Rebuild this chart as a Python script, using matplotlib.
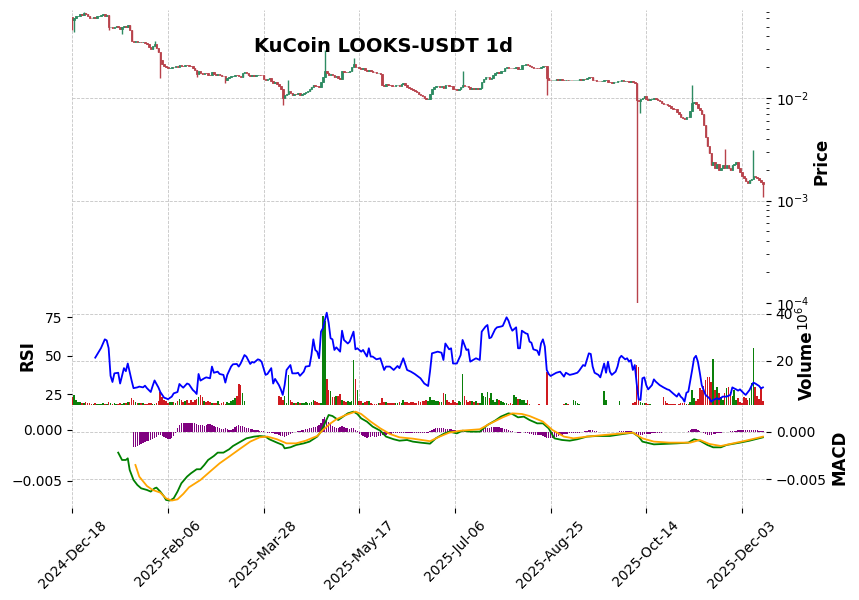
import numpy as np
import pandas as pd
import matplotlib
matplotlib.use("Agg")
import matplotlib.pyplot as plt
from matplotlib.ticker import LogLocator, NullFormatter

# ---------------- data ----------------
title = "KuCoin LOOKS-USDT 1d"
start_date = "2024-12-18"
first_open = 0.062

close = [
    0.058, 0.060, 0.063, 0.064, 0.066, 0.065, 0.068, 0.066, 0.064, 0.061,
    0.060, 0.062, 0.061, 0.063, 0.064, 0.065, 0.066, 0.064, 0.065, 0.050,
    0.050, 0.048, 0.050, 0.0505, 0.049, 0.047, 0.049, 0.051, 0.050, 0.052,
    0.046, 0.036, 0.0355, 0.036, 0.0352, 0.0356, 0.0350, 0.0353, 0.0345, 0.0335,
    0.0318, 0.0305, 0.0325, 0.0340, 0.0310, 0.0280, 0.0235, 0.0215, 0.0205, 0.0200,
    0.0195, 0.0198, 0.0202, 0.0200, 0.0205, 0.0203, 0.0212, 0.0208, 0.0206, 0.0212,
    0.0210, 0.0208, 0.0205, 0.0198, 0.0188, 0.0172, 0.0182, 0.0175, 0.0172, 0.0176,
    0.0174, 0.0170, 0.0168, 0.0179, 0.0172, 0.0170, 0.0171, 0.0168, 0.0166, 0.0163,
    0.0150, 0.0158, 0.0160, 0.0165, 0.0166, 0.0168, 0.0167, 0.0165, 0.0162, 0.0175,
    0.0178, 0.0176, 0.0168, 0.0165, 0.0167, 0.0166, 0.0168, 0.0170, 0.0169, 0.0167,
    0.0155, 0.0152, 0.0154, 0.0158, 0.0148, 0.0142, 0.0145, 0.0138, 0.0130, 0.0122,
    0.0100, 0.0108, 0.0110, 0.0118, 0.0112, 0.0108, 0.0110, 0.0109, 0.0111, 0.0107,
    0.0110, 0.0113, 0.0116, 0.0117, 0.0122, 0.0128, 0.0135, 0.0131, 0.0130, 0.0127,
    0.0145, 0.0160, 0.0185, 0.0175, 0.0168, 0.0172, 0.0170, 0.0160, 0.0165, 0.0158,
    0.0155, 0.0185, 0.0180, 0.0178, 0.0180, 0.0185, 0.0200, 0.0215, 0.0200, 0.0202,
    0.0195, 0.0193, 0.0196, 0.0190, 0.0185, 0.0190, 0.0182, 0.0180, 0.0178, 0.0175,
    0.0176, 0.0173, 0.0135, 0.0132, 0.0136, 0.0135, 0.0133, 0.0131, 0.0130, 0.0133,
    0.0134, 0.0132, 0.0136, 0.0140, 0.0133, 0.0128, 0.0126, 0.0123, 0.0120, 0.0117,
    0.0114, 0.0110, 0.0107, 0.0104, 0.0100, 0.0097, 0.0098, 0.0110, 0.0122, 0.0128,
    0.0130, 0.0131, 0.0129, 0.0130, 0.0126, 0.0135, 0.0133, 0.0132, 0.0131, 0.0124,
    0.0122, 0.0121, 0.0124, 0.0128, 0.0134, 0.0132, 0.0130, 0.0128, 0.0124, 0.0125,
    0.0124, 0.0125, 0.0124, 0.0125, 0.0145, 0.0155, 0.0160, 0.0162, 0.0155, 0.0158,
    0.0170, 0.0175, 0.0178, 0.0176, 0.0182, 0.0183, 0.0198, 0.0200, 0.0199, 0.0197,
    0.0195, 0.0198, 0.0203, 0.0192, 0.0193, 0.0210, 0.0212, 0.0214, 0.0212, 0.0206,
    0.0203, 0.0198, 0.0197, 0.0196, 0.0195, 0.0202, 0.0208, 0.0205, 0.0158, 0.0152,
    0.0150, 0.0151, 0.0152, 0.0153, 0.0152, 0.0153, 0.0151, 0.0150, 0.0152, 0.0151,
    0.0151, 0.0150, 0.0151, 0.0152, 0.0152, 0.0153, 0.0152, 0.0155, 0.0154, 0.0158,
    0.0160, 0.0159, 0.0152, 0.0150, 0.0148, 0.0147, 0.0146, 0.0146, 0.0150, 0.0151,
    0.0145, 0.0143, 0.0142, 0.0143, 0.0145, 0.0146, 0.0148, 0.0149, 0.0147, 0.0148,
    0.0146, 0.0145, 0.0146, 0.0143, 0.0142, 0.0096, 0.0094, 0.0097, 0.0100, 0.0104,
    0.0098, 0.0095, 0.0097, 0.0099, 0.0100, 0.0098, 0.0095, 0.0093, 0.0090, 0.0088,
    0.0087, 0.0085, 0.0084, 0.0081, 0.0079, 0.0078, 0.0074, 0.0070, 0.0066, 0.0064,
    0.0062, 0.0066, 0.0065, 0.0075, 0.0090, 0.0092, 0.0088, 0.0080, 0.0076, 0.0070,
    0.0055, 0.0042, 0.0034, 0.0029, 0.0022, 0.0024, 0.0021, 0.0023, 0.0020, 0.0021,
    0.0022, 0.0021, 0.0022, 0.0021, 0.0020, 0.0022, 0.0023, 0.0024, 0.0021, 0.0019,
    0.00175, 0.00165, 0.00155, 0.00148, 0.00158, 0.00163, 0.00172, 0.00168, 0.00165, 0.00160,
    0.00152, 0.00145,
]

# notable wick extremes: (day index, price)
wick_highs = [(6, 0.070), (43, 0.036), (113, 0.0150), (132, 0.0294), (147, 0.0245),
              (204, 0.0183), (324, 0.0134), (341, 0.0032), (356, 0.0031)]
wick_lows = [(0, 0.046), (1, 0.044), (19, 0.046), (26, 0.042), (46, 0.0157), (65, 0.0160),
             (80, 0.0140), (110, 0.0085), (248, 0.0107), (295, 0.00009), (297, 0.0071),
             (361, 0.00108)]

# volume in millions
volume_m = [
    4.5, 5.3, 3.0, 2.4, 2.2, 2.0, 1.8, 2.2, 1.7, 1.8,
    1.6, 1.5, 1.8, 1.5, 1.4, 1.6, 1.7, 1.4, 1.6, 2.2,
    1.9, 1.6, 1.8, 1.4, 1.5, 1.9, 1.6, 1.7, 2.0, 2.2,
    2.2, 4.2, 3.2, 2.5, 2.0, 1.8, 1.7, 2.1, 1.6, 1.5,
    1.8, 1.9, 1.5, 1.6, 1.8, 2.8, 6.5, 4.5, 3.0, 2.6,
    2.0, 2.5, 2.2, 2.3, 1.9, 2.6, 3.4, 3.1, 2.4, 2.9,
    3.1, 2.0, 3.0, 2.3, 3.0, 3.8, 4.5, 5.3, 4.4, 2.8,
    2.3, 2.7, 2.2, 2.0, 1.9, 1.8, 2.6, 1.6, 2.1, 2.3,
    1.6, 2.4, 2.1, 2.7, 3.0, 4.2, 4.8, 10.1, 9.5, 6.0,
    2.6, 0.3, 0.2, 0.3, 0.2, 0.2, 0.3, 0.2, 0.3, 0.5,
    0.6, 0.4, 0.5, 0.4, 0.3, 0.6, 0.5, 0.7, 4.8, 4.5,
    3.0, 4.8, 1.9, 13.9, 3.0, 2.4, 2.0, 1.8, 2.2, 2.0,
    2.1, 1.9, 2.2, 1.7, 2.0, 2.3, 3.2, 2.6, 2.3, 2.1,
    1.9, 39.0, 37.0, 12.0, 7.4, 7.2, 4.6, 4.4, 5.0, 4.8,
    5.7, 3.1, 2.7, 2.5, 2.6, 2.3, 2.8, 20.3, 12.0, 7.4,
    2.8, 2.9, 2.0, 2.2, 2.6, 2.6, 2.0, 1.6, 1.5, 1.4,
    1.8, 2.1, 4.1, 2.4, 2.2, 1.9, 2.1, 2.0, 1.8, 1.7,
    2.1, 2.3, 1.9, 3.0, 2.5, 2.3, 1.8, 2.2, 2.4, 2.0,
    2.1, 2.6, 2.4, 2.9, 2.8, 3.1, 2.9, 4.5, 3.0, 3.2,
    2.7, 2.9, 2.3, 2.4, 6.0, 5.6, 3.2, 2.4, 2.0, 3.1,
    2.5, 1.9, 2.6, 2.3, 14.3, 4.8, 3.1, 2.5, 2.9, 2.6,
    2.3, 2.7, 2.0, 1.7, 6.0, 4.8, 4.6, 6.7, 4.2, 6.0,
    3.1, 2.5, 3.5, 3.0, 2.8, 2.4, 2.0, 1.7, 1.5, 1.9,
    1.6, 5.3, 4.5, 3.8, 3.4, 3.0, 3.1, 2.0, 3.1, 1.3,
    1.2, 1.1, 1.0, 1.2, 1.3, 1.1, 1.0, 1.2, 15.3, 0.9,
    0.5, 0.4, 0.3, 0.3, 0.4, 0.3, 0.3, 1.5, 1.8, 1.4,
    1.0, 0.6, 3.0, 2.6, 1.9, 1.6, 0.6, 0.3, 0.3, 0.4,
    0.3, 0.4, 0.3, 0.4, 0.3, 0.3, 0.4, 0.5, 7.2, 3.1,
    0.3, 0.4, 0.3, 0.3, 0.4, 0.3, 2.6, 0.5, 0.3, 0.2,
    0.3, 0.2, 0.4, 1.8, 2.5, 18.2, 17.5, 2.4, 2.1, 1.8,
    1.9, 1.6, 1.4, 1.2, 1.1, 1.0, 1.1, 0.9, 1.2, 4.5,
    2.8, 1.8, 1.6, 1.3, 1.4, 1.5, 1.2, 1.3, 1.7, 1.9,
    1.8, 1.6, 1.4, 2.4, 7.4, 4.0, 2.6, 3.5, 8.2, 7.4,
    9.0, 11.7, 12.9, 13.2, 11.0, 20.6, 7.4, 8.8, 6.0, 4.5,
    3.0, 6.0, 8.2, 8.8, 6.5, 5.0, 7.4, 3.2, 4.2, 2.5,
    2.0, 4.6, 4.0, 3.0, 4.0, 10.3, 25.3, 8.8, 4.9, 3.5,
    8.8, 2.8,
]

rsi_days = [12, 15, 17, 18, 19, 20, 21, 22, 24, 25, 27, 28, 29, 31, 32, 34, 35, 37, 38, 39,
            41, 42, 43, 45, 46, 48, 49, 50, 52, 53, 55, 56, 57, 58, 60, 61, 63, 64, 65, 66,
            67, 69, 70, 72, 73, 74, 76, 77, 79, 80, 81, 83, 84, 86, 87, 88, 90, 91, 93, 94,
            95, 97, 98, 99, 101, 102, 104, 105, 106, 108, 109, 110, 111, 112, 114, 115, 117, 118, 119, 121,
            122, 124, 125, 126, 127, 128, 129, 130, 131, 133, 134, 135, 136, 137, 138, 140, 141, 142, 144, 145,
            147, 148, 149, 151, 152, 154, 155, 156, 157, 159, 161, 163, 164, 166, 168, 170, 171, 173, 175, 177,
            179, 182, 184, 186, 187, 188, 191, 193, 194, 195, 197, 198, 199, 201, 203, 204, 206, 207, 208, 210,
            211, 213, 214, 216, 217, 218, 219, 221, 222, 224, 225, 227, 228, 229, 230, 232, 233, 234, 235, 237,
            238, 239, 240, 241, 243, 244, 245, 246, 247, 248, 249, 250, 251, 253, 255, 257, 258, 260, 262, 264,
            265, 267, 268, 270, 271, 272, 273, 275, 276, 278, 279, 280, 281, 282, 284, 285, 286, 287, 289, 290,
            291, 292, 293, 294, 295, 296, 297, 298, 299, 300, 301, 303, 304, 305, 307, 309, 311, 312, 314, 316,
            317, 318, 319, 320, 321, 322, 324, 325, 326, 327, 328, 329, 330, 331, 333, 334, 335, 337, 338, 340,
            341, 342, 344, 345, 346, 347, 348, 349, 351, 352, 354, 355, 356, 357, 359, 360, 361]
rsi_vals = [48.8, 55, 60.7, 60, 55, 37, 33, 38.6, 39, 32, 42, 40, 45, 34, 29, 29.5, 30, 29.5, 30.6, 29,
            26.5, 30.4, 34, 29.5, 26.5, 22.8, 22.4, 21.8, 23.5, 25.6, 26.5, 31.7, 30.4, 29.3, 32, 31.5, 27.8, 26.7, 25.2, 38.2,
            33.9, 35.4, 36, 35.4, 43, 39, 39.7, 38.2, 37.6, 32.6, 37.6, 43, 44.5, 44.7, 43, 45, 50.5, 49.5, 44.7, 46,
            45.6, 47.7, 47.3, 46, 37.6, 38.2, 42, 32, 35, 31, 28.2, 24.6, 31, 40.8, 44, 38.6, 38.6, 39, 37, 39.7,
            43, 43.4, 50.5, 60.7, 53.8, 52.7, 48.4, 65.7, 67.9, 78, 71.5, 61.4, 60.7, 53.8, 55.5, 52.7, 66.3, 60.3, 58, 59.2,
            65.7, 54.2, 54.9, 52.7, 53.8, 49.5, 54.9, 49.5, 49.5, 47.7, 48.4, 40.8, 43, 43, 40.8, 43.4, 42, 48.4, 40.8, 39.7,
            38.2, 35.4, 32, 30.4, 40, 51.6, 52.7, 52, 47.3, 58, 54.2, 54.9, 45, 45, 50.5, 60.3, 53.8, 54.2, 46.2, 47.7,
            48.4, 47.3, 65.7, 69, 70, 61.4, 62, 67.2, 68.5, 69, 69.4, 75, 72.8, 69, 66.3, 68.5, 54.9, 54.9, 66.3, 64.6,
            64.2, 59.2, 58.5, 54.2, 53.4, 50.5, 58, 60.7, 56, 40.8, 38.2, 36.9, 37.6, 39, 39.7, 36.5, 39, 37.6, 38.2, 39,
            40.4, 44, 43.4, 51.6, 51.2, 43, 39, 37.6, 36, 45, 39, 46.2, 39.7, 37.6, 39.7, 43, 48.4, 50, 47.7, 48.4,
            46.2, 47.3, 40.8, 44, 32, 21.8, 21.3, 35.4, 36, 31, 28.2, 31, 34.7, 33.2, 31, 29.5, 28.2, 27.8, 25.6, 23.5,
            25.6, 23.5, 22.4, 20.2, 26, 26.7, 40.8, 48.4, 50, 46.2, 39, 31, 27.8, 24.6, 22.4, 20.2, 21.3, 22.4, 21.8, 23.5,
            23.5, 23.5, 24.6, 29.5, 28.8, 28.2, 27.4, 28.2, 25.6, 24.6, 27.8, 30.4, 32.6, 32, 30.4, 28.8, 29.5]

macd_days = [24, 26, 28, 29, 30, 32, 34, 36, 39, 41, 43, 44, 46, 48, 49, 51, 53, 55, 57, 60,
             62, 65, 67, 69, 71, 74, 76, 79, 82, 84, 88, 91, 95, 98, 101, 103, 107, 110, 111, 114,
             117, 121, 124, 128, 130, 132, 134, 136, 139, 142, 144, 147, 149, 151, 154, 157, 161, 164, 168, 171,
             175, 178, 182, 187, 190, 194, 197, 201, 204, 208, 213, 217, 221, 224, 228, 230, 233, 236, 239, 243,
             246, 249, 252, 256, 260, 264, 269, 274, 281, 288, 293, 296, 298, 304, 309, 316, 322, 325, 328, 332,
             335, 339, 342, 349, 354, 361]
macd_vals = [-0.00222, -0.00294, -0.00294, -0.00278, -0.00392, -0.0049, -0.00539, -0.00572, -0.00588, -0.00604,
             -0.00572, -0.00565, -0.00604, -0.00653, -0.00686, -0.00692, -0.0067, -0.00604, -0.00523, -0.00457,
             -0.00425, -0.00385, -0.00385, -0.00343, -0.00294, -0.00255, -0.00222, -0.00222, -0.00189, -0.00157,
             -0.00114, -0.00082, -0.00065, -0.00059, -0.00065, -0.00091, -0.00124, -0.00147, -0.0018, -0.0017,
             -0.00147, -0.00131, -0.00114, -0.00065, -0.00016, 0.00065, 0.00147, 0.00137, 0.00098, 0.00137,
             0.00163, 0.0018, 0.00157, 0.00114, 0.00082, 0.00033, -0.00007, -0.00065, -0.00091, -0.00105,
             -0.00098, -0.00114, -0.00124, -0.00134, -0.00082, -0.00039, -0.00016, -0.00033, -0.00007, -0.00016,
             -0.00016, 0.00049, 0.00092, 0.00131, 0.00163, 0.00157, 0.00124, 0.00131, 0.00098, 0.00065,
             0.00065, 0.00016, -0.00082, -0.00098, -0.00105, -0.00091, -0.00065, -0.00059, -0.00059, -0.00039,
             -0.00026, -0.00065, -0.00114, -0.00141, -0.00137, -0.00131, -0.00124, -0.00091, -0.00105, -0.00147,
             -0.0017, -0.0017, -0.00147, -0.00124, -0.00105, -0.00072]

signal_days = [33, 35, 39, 42, 46, 49, 52, 55, 58, 61, 67, 72, 77, 82, 88, 93, 98, 102, 107, 112,
               117, 122, 128, 131, 135, 138, 143, 148, 151, 156, 161, 166, 171, 178, 187, 192, 197, 203, 213, 218,
               225, 230, 235, 239, 246, 251, 257, 262, 269, 278, 288, 293, 298, 304, 312, 323, 328, 333, 339, 344,
               352, 361]
signal_vals = [-0.00343, -0.00457, -0.00549, -0.00588, -0.00614, -0.0067, -0.00692, -0.0068, -0.00627, -0.00562,
               -0.0049, -0.00408, -0.00327, -0.00261, -0.0018, -0.00114, -0.00072, -0.00065, -0.00091, -0.00131,
               -0.00131, -0.00105, -0.00059, 0.0, 0.00065, 0.00105, 0.00147, 0.0018, 0.00157, 0.00082,
               0.00016, -0.00039, -0.00072, -0.00085, -0.0011, -0.00065, -0.00026, -0.00007, 0.00007, 0.00059,
               0.00124, 0.00163, 0.00157, 0.00137, 0.00082, 0.0, -0.00065, -0.00082, -0.00065, -0.00049,
               -0.00033, -0.00026, -0.00082, -0.00114, -0.00124, -0.00124, -0.00098, -0.00137, -0.00157, -0.00137,
               -0.00105, -0.00065]

hist_start = 32
hist_e4 = [
    -16, -16, -15, -14, -13, -12, -11, -10,
    -9, -8, -7, -6, -5, -3, -3, -4,
    -5, -6, -7, -7, -6, -4,
    -1,
    4, 7, 9, 10, 10, 10, 10, 9, 9, 9, 8, 7,
    7, 7, 6, 7, 8, 8, 7,
    6, 5, 5, 4, 3, 3, 4, 3,
    2, 2, 3,
    5, 6, 7, 6, 6, 5,
    4, 4, 3, 3, 2, 2, 2, 1, 1,
    1, 0, -1, -1, -1, -1, -2,
    -2, -3, -4, -4, -5, -4, -3,
    -2, -1, 0, 0, 1,
    1, 2, 2, 3, 3, 4, 4, 5, 5, 6, 7,
    10, 14, 16, 14, 11,
    8, 6, 5, 4, 4, 5, 6, 5, 4,
    4, 3, 4, 4, 2, 1,
    -2, -3, -4, -5, -6, -5, -5, -4,
    -5, -5, -4, -4, -3, -3, -3,
    -2, -2, -2, -1, -1, -1, -1, -1, -1, -1,
    -1, -1, -1, -1, -1, -1, -1, -1, -1, -1, -1, -1,
    1, 2, 3, 4, 4, 4, 4, 4, 3, 3, 3, 3, 2, 2, 1,
    1, 1, 1, 1, 1, 1, 0, 0, 0, 0, 0,
    1, 2, 3, 4, 4, 4, 5, 5, 5, 5, 5, 4, 4, 3, 3, 2, 1, 1,
    0, 0, -1, -1, 0, 0, -1, -1,
    -2, -2, -3, -3, -3, -3, -3, -4,
    -5, -6, -6, -6, -6, -5, -5, -4,
    -3, -3, -2, -2, -2, -1,
    -1, -1, -1, -1, -1, 0, 0,
    1, 1, 2, 2, 2, 1, 1,
    0, 0, 0, 0, 0, 0, 0, 0, 0, 0, 0, 1,
    1, 1, 1, 1, 1, 1, 0, 0,
    -2, -3, -3, -3, -2, -2, -2, -2, -1, -1, -1, -1, -1, -1, 0,
    0, 0, 0, 0, 0, 0, 0, 0, 0, 0, 0, 0, 1,
    2, 3, 3, 3, 2, 1, 0,
    -1, -2, -3, -3, -3, -2, -2, -1, -1,
    -1, 0, 0, 0, 0,
    1, 1, 1, 1, 2, 2, 2, 2, 2, 2, 2, 2, 2, 2, 2, 1, 1, 1,
]

tick_every = 50

# ---------------- styling ----------------
UP_C, DOWN_C = "#2e8b62", "#b8424b"
VUP_C, VDOWN_C = "#0a800a", "#cf1a1f"
GRID = dict(linestyle="--", color="#c4c4c4", linewidth=0.6)

W, H = 859, 600
fig = plt.figure(figsize=(W / 100, H / 100), dpi=100)


def rect(l, t, r, b):
    return [l / W, 1 - b / H, (r - l) / W, (b - t) / H]


ax_p = fig.add_axes(rect(72, 10, 766, 303))
ax_v = fig.add_axes(rect(72, 303, 766, 405), sharex=ax_p)
ax_m = fig.add_axes(rect(72, 405, 766, 508), sharex=ax_p)
ax_r = ax_v.twinx()
ax_l = ax_m.twinx()

n = len(close)
x = np.arange(n)
c = np.array(close)
o = np.array([first_open] + close[:-1])
hi = np.maximum(o, c)
lo = np.minimum(o, c)
for i, v in wick_highs:
    hi[i] = v
for i, v in wick_lows:
    lo[i] = v
up = c >= o
ccol = np.where(up, UP_C, DOWN_C)

# price candles
ax_p.set_yscale("log")
ax_p.vlines(x, lo, hi, colors=ccol, linewidth=1.0, zorder=2)
ax_p.bar(x, np.abs(c - o), bottom=np.minimum(o, c), width=0.8, color=ccol,
         edgecolor=ccol, linewidth=0.6, zorder=3)
ax_p.set_ylim(1.0e-4, 0.0725)
ax_p.yaxis.tick_right()
ax_p.yaxis.set_major_locator(LogLocator(base=10))
ax_p.yaxis.set_minor_locator(LogLocator(base=10, subs=np.arange(2, 10)))
ax_p.yaxis.set_minor_formatter(NullFormatter())
ax_p.grid(True, which="major", **GRID)
ax_p.tick_params(axis="x", which="both", length=0, labelbottom=False)

# volume (primary, right) + RSI (secondary, left)
vcol = np.where(up, VUP_C, VDOWN_C)
ax_v.bar(x, volume_m, width=0.85, color=vcol, linewidth=0, zorder=2)
ax_v.set_ylim(1.03, 44.7)
ax_v.yaxis.tick_right()
ax_v.set_yticks([20, 40])
ax_v.grid(True, **GRID)
ax_v.tick_params(axis="x", which="both", length=0, labelbottom=False)

ax_r.plot(rsi_days, rsi_vals, color="#0000ff", linewidth=1.3)
ax_r.set_ylim(18.05, 84.3)
ax_r.yaxis.tick_left()
ax_r.set_yticks([25, 50, 75])
ax_r.tick_params(axis="x", which="both", length=0, labelbottom=False)

# MACD panel: histogram on primary (right), lines on secondary (left)
hist_days = np.arange(hist_start, hist_start + len(hist_e4))
ax_m.bar(hist_days, np.array(hist_e4) * 1e-4, width=0.7, color="#800080", linewidth=0, zorder=2)
ax_m.set_ylim(-0.00803, 0.00285)
ax_m.yaxis.tick_right()
ax_m.set_yticks([-0.005, 0.0])
ax_m.set_yticklabels(["\u22120.005", "0.000"])
ax_m.grid(True, **GRID)

ax_l.plot(macd_days, macd_vals, color="#008000", linewidth=1.3)
ax_l.plot(signal_days, signal_vals, color="#ffa500", linewidth=1.3)
ax_l.set_ylim(-0.00765, 0.00245)
ax_l.yaxis.tick_left()
ax_l.set_yticks([-0.005, 0.0])
ax_l.set_yticklabels(["\u22120.005", "0.000"])

dates = pd.date_range(start_date, periods=n, freq="D")
tick_pos = list(range(0, n, tick_every))
tick_lab = [dates[i].strftime("%Y-%b-%d") for i in tick_pos]
ax_m.set_xticks(tick_pos)
ax_m.set_xticklabels(tick_lab, rotation=45, ha="center", fontsize=10)
ax_m.set_xlim(-0.15, 362.6)

for a in (ax_p, ax_v, ax_m, ax_r, ax_l):
    for s in a.spines.values():
        s.set_visible(False)
    a.tick_params(axis="y", labelsize=10)

# labels
fig.text(384 / W, 1 - 47 / H, title, ha="center", va="center", fontsize=14, fontweight="bold")
fig.text(822 / W, 1 - 161 / H, "Price", rotation=90, ha="center", va="center", fontsize=12, fontweight="bold")
fig.text(28 / W, 1 - 356 / H, "RSI", rotation=90, ha="center", va="center", fontsize=12, fontweight="bold")
fig.text(807 / W, 1 - 365 / H, "Volume", rotation=90, ha="center", va="center", fontsize=12, fontweight="bold")
fig.text(803 / W, 1 - 318 / H, r"$10^{6}$", rotation=90, ha="center", va="center", fontsize=10)
fig.text(840 / W, 1 - 457 / H, "MACD", rotation=90, ha="center", va="center", fontsize=12, fontweight="bold")

fig.savefig("out.png", dpi=100)
